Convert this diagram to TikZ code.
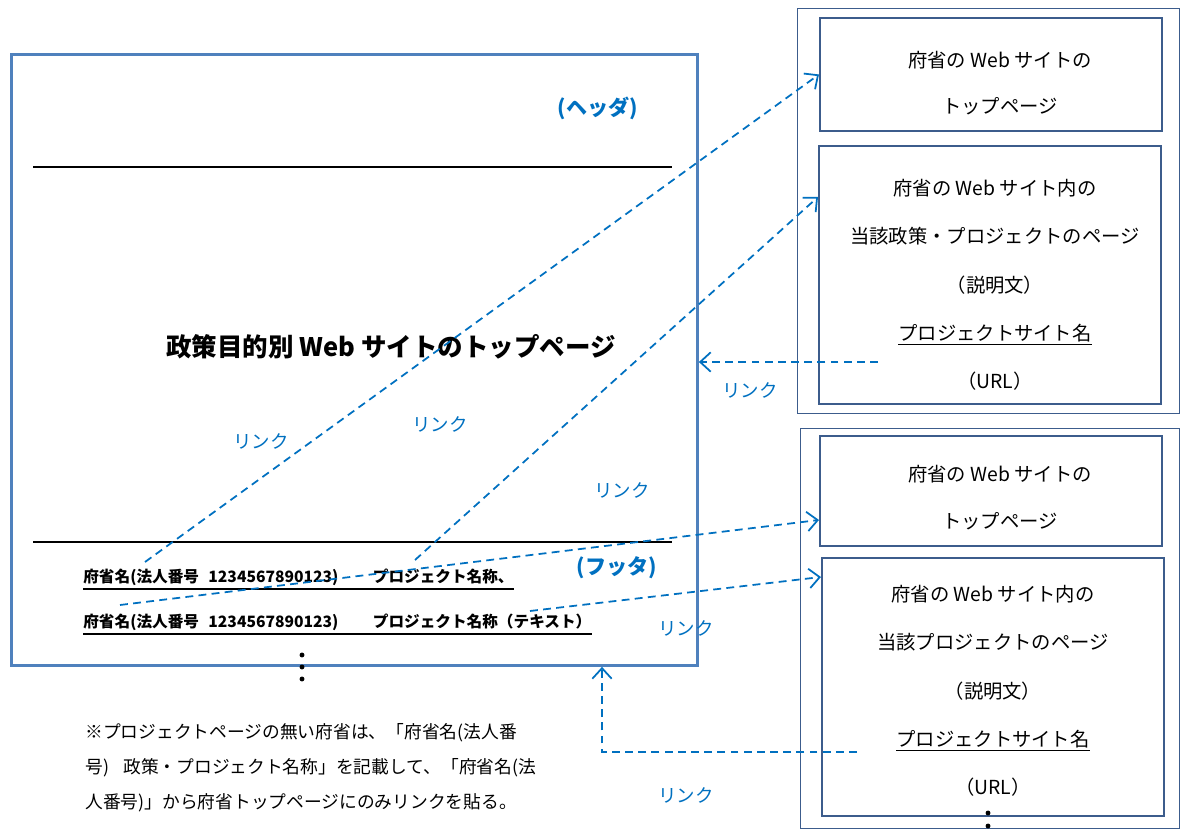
\documentclass[tikz,border=0pt]{standalone}
\usepackage{fontspec}
\setmainfont{Noto Sans CJK JP}
\usepackage{tikz}
\usetikzlibrary{arrows.meta}
\definecolor{linkblue}{RGB}{0,112,192}
\definecolor{pageblue}{RGB}{79,129,189}
\definecolor{boxblue}{RGB}{60,92,140}

\begin{document}
\begin{tikzpicture}[x=0.02cm, y=-0.02cm,
  pagebox/.style={draw=pageblue, line width=1.7pt, anchor=north west, inner sep=0pt},
  groupbox/.style={draw=boxblue, line width=0.8pt, anchor=north west, inner sep=0pt},
  sitebox/.style={draw=boxblue, line width=1.1pt, anchor=north west, inner sep=0pt, minimum width=6.84cm},
  sitetext/.style={align=center, inner sep=0pt, font=\fontsize{11}{27.5}\selectfont},
  rowtext/.style={anchor=west, inner sep=0pt, font=\bfseries\fontsize{8.9}{11}\selectfont},
  tag/.style={text=linkblue, font=\bfseries\fontsize{12}{14}\selectfont},
  linklabel/.style={text=linkblue, font=\fontsize{10.5}{12}\selectfont},
  link/.style={draw=linkblue, line width=1pt, dash pattern=on 4.5pt off 3pt, -{Straight Barb[length=6pt,width=11pt]}}
 ]
 \useasboundingbox (0,0) rectangle (1181,831);

 \node[pagebox, minimum width=13.72cm, minimum height=12.22cm] (page) at (10,53) {};
 \draw[line width=1pt] (33,167) -- (672,167);
 \draw[line width=1pt] (33,542) -- (672,542);
 \node[tag] (header) at (598,108) {(ヘッダ)};
 \node[tag] (footer) at (617,568) {(フッタ)};
 \node[font=\bfseries\fontsize{14.5}{17}\selectfont] (title) at (391,347) {政策目的別 Web サイトのトップページ};

 \node[rowtext] (row1) at (83,577) {府省名(法人番号\hspace{0.6em}1234567890123)\hspace{2.2em}プロジェクト名称、};
 \node[rowtext] (row2) at (83,622) {府省名(法人番号\hspace{0.6em}1234567890123)\hspace{2.2em}プロジェクト名称（テキスト）};
 \foreach \r in {row1,row2}
   \draw[line width=0.8pt] ([yshift=-1.8pt]\r.south west) -- ([yshift=-1.8pt]\r.south east);
 \foreach \y in {655,667,679}
   \fill (302,\y) circle[radius=1.4pt];

 \node[anchor=west, align=left, inner sep=0pt, font=\fontsize{10.1}{20}\selectfont] (note) at (85,768)
   {※プロジェクトページの無い府省は、「府省名(法人番\\
    号)\hspace{0.8em}政策・プロジェクト名称」を記載して、「府省名(法\\
    人番号)」から府省トップページにのみリンクを貼る。};

 % policy project site
 \node[groupbox, minimum width=7.64cm, minimum height=8.1cm] (grpA) at (797,8) {};
 \node[sitebox, minimum height=2.26cm] (A1) at (819,17) {};
 \node[sitebox, minimum height=5.16cm] (A2) at (818,145) {};
 \node[sitetext, font=\fontsize{11}{26}\selectfont] (A1txt) at (1000,83) {府省の Web サイトの\\トップページ};
 \node[sitetext] (A2txt) at (995,285) {府省の Web サイト内の\\当該政策・プロジェクトのページ\\（説明文）\\\underline{プロジェクトサイト名}\\（URL）};

 % project site
 \node[groupbox, minimum width=7.58cm, minimum height=8cm] (grpB) at (800,428) {};
 \node[sitebox, minimum height=2.2cm] (B1) at (819,435) {};
 \node[sitebox, minimum height=5.16cm] (B2) at (821,557) {};
 \node[sitetext, font=\fontsize{11}{26.7}\selectfont] (B1txt) at (1000,498) {府省の Web サイトの\\トップページ};
 \node[sitetext] (B2txt) at (993,691) {府省の Web サイト内の\\当該プロジェクトのページ\\（説明文）\\\underline{プロジェクトサイト名}\\（URL）};
 \foreach \y in {813,826}
   \fill (988,\y) circle[radius=1.4pt];

 \coordinate (s1) at (145,562);
 \coordinate (s2) at (415,560);
 \coordinate (s3) at (120,605);
 \coordinate (s4) at (530,611);
 \coordinate (u1) at (878,362);
 \coordinate (u2) at (857,752);
 \coordinate (bend) at (602,752);

 \draw[link] (s1) -- (A1.west);
 \draw[link] (s2) -- ([yshift=-1.04cm]A2.north west);
 \draw[link] (s3) -- ([yshift=-1.7cm]B1.north west);
 \draw[link] (s4) -- ([yshift=-0.4cm]B2.north west);
 \draw[link] (u1) -- (u1 -| page.east);
 \draw[link] (u2) -- (bend) -- (bend |- page.south);

 \node[linklabel] (l1) at (261,441) {リンク};
 \node[linklabel] (l2) at (440,424) {リンク};
 \node[linklabel] (l3) at (622,490) {リンク};
 \node[linklabel] (l4) at (750,390) {リンク};
 \node[linklabel] (l5) at (686,628) {リンク};
 \node[linklabel] (l6) at (686,795) {リンク};
\end{tikzpicture}
\end{document}
